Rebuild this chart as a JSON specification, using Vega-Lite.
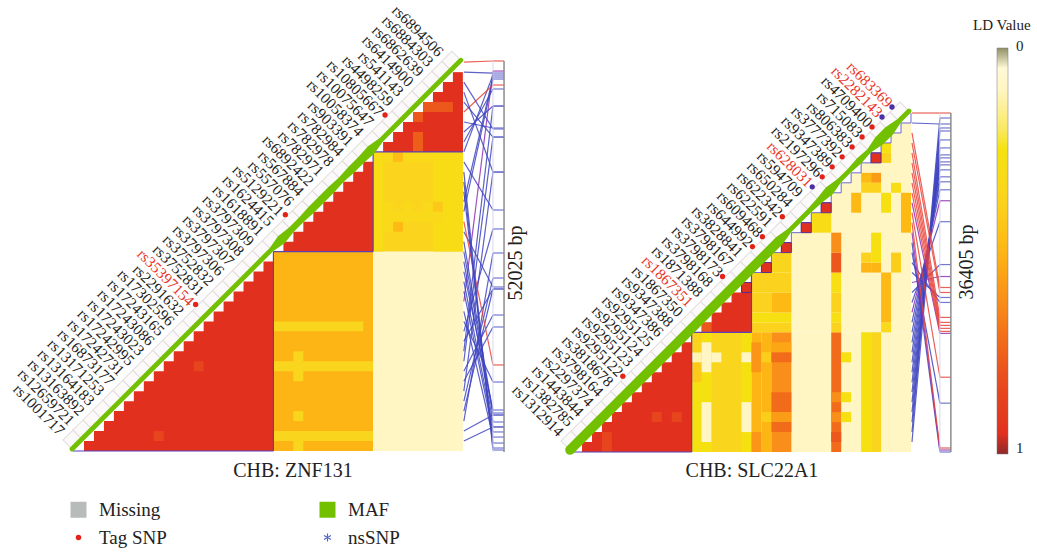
{"$schema":"https://vega.github.io/schema/vega-lite/v6.json","padding":0,"spacing":0,"bounds":"flush","background":"white","config":{"font":"Liberation Serif","axis":{"disable":true},"view":{"stroke":null}},"resolve":{"scale":{"color":"independent"},"legend":{"color":"independent"}},
"datasets":{
"zc":[{"c0":1,"c1":20,"r0":0,"r1":1,"ld":0.95},{"c0":2,"c1":20,"r0":0,"r1":2,"ld":0.95},{"c0":3,"c1":20,"r0":0,"r1":3,"ld":0.95},{"c0":4,"c1":20,"r0":0,"r1":4,"ld":0.95},{"c0":5,"c1":20,"r0":0,"r1":5,"ld":0.95},{"c0":6,"c1":20,"r0":0,"r1":6,"ld":0.95},{"c0":7,"c1":20,"r0":0,"r1":7,"ld":0.95},{"c0":8,"c1":20,"r0":0,"r1":8,"ld":0.95},{"c0":9,"c1":20,"r0":0,"r1":9,"ld":0.95},{"c0":10,"c1":20,"r0":0,"r1":10,"ld":0.95},{"c0":11,"c1":20,"r0":0,"r1":11,"ld":0.95},{"c0":12,"c1":20,"r0":0,"r1":12,"ld":0.95},{"c0":13,"c1":20,"r0":0,"r1":13,"ld":0.95},{"c0":14,"c1":20,"r0":0,"r1":14,"ld":0.95},{"c0":15,"c1":20,"r0":0,"r1":15,"ld":0.95},{"c0":16,"c1":20,"r0":0,"r1":16,"ld":0.95},{"c0":17,"c1":20,"r0":0,"r1":17,"ld":0.95},{"c0":18,"c1":20,"r0":0,"r1":18,"ld":0.95},{"c0":19,"c1":20,"r0":0,"r1":19,"ld":0.95},
{"c0":21,"c1":30,"r0":20,"r1":21,"ld":0.95},{"c0":22,"c1":30,"r0":20,"r1":22,"ld":0.95},{"c0":23,"c1":30,"r0":20,"r1":23,"ld":0.95},{"c0":24,"c1":30,"r0":20,"r1":24,"ld":0.95},{"c0":25,"c1":30,"r0":20,"r1":25,"ld":0.95},{"c0":26,"c1":30,"r0":20,"r1":26,"ld":0.95},{"c0":27,"c1":30,"r0":20,"r1":27,"ld":0.95},{"c0":28,"c1":30,"r0":20,"r1":28,"ld":0.95},{"c0":29,"c1":30,"r0":20,"r1":29,"ld":0.95},
{"c0":31,"c1":39,"r0":30,"r1":31,"ld":0.95},{"c0":32,"c1":39,"r0":30,"r1":32,"ld":0.95},{"c0":33,"c1":39,"r0":30,"r1":33,"ld":0.95},{"c0":34,"c1":39,"r0":30,"r1":34,"ld":0.95},{"c0":35,"c1":39,"r0":30,"r1":35,"ld":0.95},{"c0":36,"c1":39,"r0":30,"r1":36,"ld":0.95},{"c0":37,"c1":39,"r0":30,"r1":37,"ld":0.95},{"c0":38,"c1":39,"r0":30,"r1":38,"ld":0.95},
{"c0":20,"c1":30,"r0":0,"r1":20,"ld":0.5},{"c0":30,"c1":39,"r0":0,"r1":20,"ld":0.1},{"c0":30,"c1":39,"r0":20,"r1":30,"ld":0.37},{"c0":30,"c1":31,"r0":20,"r1":30,"ld":0.3},{"c0":36,"c1":39,"r0":20,"r1":30,"ld":0.3},
{"c0":20,"c1":29,"r0":12,"r1":13,"ld":0.36},{"c0":20,"c1":30,"r0":8,"r1":9,"ld":0.36},{"c0":20,"c1":30,"r0":1,"r1":2,"ld":0.36},{"c0":22,"c1":23,"r0":7,"r1":10,"ld":0.36},{"c0":22,"c1":23,"r0":3,"r1":4,"ld":0.36},{"c0":22,"c1":23,"r0":0,"r1":1,"ld":0.36},
{"c0":12,"c1":13,"r0":8,"r1":9,"ld":0.85},{"c0":8,"c1":9,"r0":1,"r1":2,"ld":0.85},{"c0":35,"c1":38,"r0":34,"r1":35,"ld":0.78},{"c0":34,"c1":35,"r0":33,"r1":34,"ld":0.78},{"c0":34,"c1":35,"r0":30,"r1":32,"ld":0.76},
{"c0":31,"c1":36,"r0":29,"r1":30,"ld":0.33},{"c0":32,"c1":33,"r0":29,"r1":30,"ld":0.47},{"c0":32,"c1":33,"r0":22,"r1":23,"ld":0.48},{"c0":31,"c1":32,"r0":22,"r1":23,"ld":0.33},{"c0":31,"c1":37,"r0":23,"r1":24,"ld":0.33},{"c0":31,"c1":32,"r0":24,"r1":25,"ld":0.33},{"c0":33,"c1":34,"r0":24,"r1":25,"ld":0.33},{"c0":35,"c1":36,"r0":24,"r1":25,"ld":0.33},{"c0":36,"c1":37,"r0":24,"r1":25,"ld":0.42}],
"zs":[{"i":1,"rs":"rs1001717","pos":2.41,"cls":"b"},{"i":2,"rs":"rs12659721","pos":3.61,"cls":"b"},{"i":3,"rs":"rs13163892","pos":19.86,"cls":"b"},{"i":4,"rs":"rs13164183","pos":16.25,"cls":"b"},{"i":5,"rs":"rs13171253","pos":17.35,"cls":"b"},{"i":6,"rs":"rs16873177","pos":27.98,"cls":"b"},{"i":7,"rs":"rs17242731","pos":12.44,"cls":"b"},{"i":8,"rs":"rs17242995","pos":13.64,"cls":"b"},{"i":9,"rs":"rs17243023","pos":31.49,"cls":"b"},{"i":10,"rs":"rs17243086","pos":34.6,"cls":"b"},{"i":11,"rs":"rs17243165","pos":16.25,"cls":"b"},{"i":12,"rs":"rs17302596","pos":22.27,"cls":"b"},{"i":13,"rs":"rs2291632","pos":6.92,"cls":"b"},{"i":14,"rs":"rs35397154","pos":1.4,"cls":"b","hl":1,"dot":"t"},{"i":15,"rs":"rs3752831","pos":38.11,"cls":"p"},{"i":16,"rs":"rs3752832","pos":1.91,"cls":"b"},{"i":17,"rs":"rs3797306","pos":2.41,"cls":"b"},{"i":18,"rs":"rs3797307","pos":4.11,"cls":"b"},{"i":19,"rs":"rs3797308","pos":2.91,"cls":"b"},{"i":20,"rs":"rs3797309","pos":3.61,"cls":"b"},{"i":21,"rs":"rs1618891","pos":3.81,"cls":"b"},{"i":22,"rs":"rs1624415","pos":16.45,"cls":"b"},{"i":23,"rs":"rs5129221","pos":8.63,"cls":"r","dot":"t"},{"i":24,"rs":"rs557076","pos":37.31,"cls":"b"},{"i":25,"rs":"rs567884","pos":37.51,"cls":"b"},{"i":26,"rs":"rs6892422","pos":0.8,"cls":"b"},{"i":27,"rs":"rs782971","pos":0.3,"cls":"b"},{"i":28,"rs":"rs782978","pos":0.1,"cls":"b"},{"i":29,"rs":"rs782984","pos":24.17,"cls":"b"},{"i":30,"rs":"rs903391","pos":37.71,"cls":"b"},{"i":31,"rs":"rs10058374","pos":36.31,"cls":"b"},{"i":32,"rs":"rs10075647","pos":34.6,"cls":"b"},{"i":33,"rs":"rs10805667","pos":32.4,"cls":"b","dot":"t"},{"i":34,"rs":"rs4498259","pos":36.71,"cls":"r"},{"i":35,"rs":"rs541143","pos":31.49,"cls":"b"},{"i":36,"rs":"rs6414900","pos":27.98,"cls":"b"},{"i":37,"rs":"rs6862639","pos":32.3,"cls":"b"},{"i":38,"rs":"rs6884303","pos":37.91,"cls":"b"},{"i":39,"rs":"rs6894506","pos":39.12,"cls":"r"}],
"zm":[{"i":0,"maf":0.12},{"i":1,"maf":0.12},{"i":5,"maf":0.12},{"i":10,"maf":0.12},{"i":15,"maf":0.12},{"i":20,"maf":0.12},{"i":21,"maf":0.24},{"i":22,"maf":0.16},{"i":23,"maf":0.16},{"i":24,"maf":0.2},{"i":25,"maf":0.2},{"i":26,"maf":0.2},{"i":27,"maf":0.16},{"i":28,"maf":0.2},{"i":29,"maf":0.2},{"i":30,"maf":0.24},{"i":31,"maf":0.12},{"i":35,"maf":0.12},{"i":39,"maf":0.12}],
"zo":[{"x0":-0.1,"x1":20,"y0":0,"y1":0},{"x0":20,"x1":20,"y0":0,"y1":20},{"x0":20,"x1":30,"y0":20,"y1":20},{"x0":30,"x1":30,"y0":20,"y1":30},{"x0":30,"x1":39,"y0":30,"y1":30}],
"sc":[{"c0":12,"c1":34,"r0":0,"r1":12,"ld":0.1},{"c0":18,"c1":34,"r0":12,"r1":17,"ld":0.1},{"c0":18,"c1":34,"r0":17,"r1":18,"ld":0.1},{"c0":19,"c1":34,"r0":17,"r1":19,"ld":0.1},{"c0":20,"c1":34,"r0":17,"r1":20,"ld":0.1},{"c0":21,"c1":34,"r0":17,"r1":21,"ld":0.1},{"c0":22,"c1":34,"r0":17,"r1":22,"ld":0.1},{"c0":23,"c1":34,"r0":17,"r1":23,"ld":0.1},{"c0":24,"c1":34,"r0":17,"r1":24,"ld":0.1},{"c0":25,"c1":34,"r0":17,"r1":25,"ld":0.1},{"c0":26,"c1":34,"r0":17,"r1":26,"ld":0.1},{"c0":27,"c1":34,"r0":17,"r1":27,"ld":0.1},{"c0":28,"c1":34,"r0":17,"r1":28,"ld":0.1},{"c0":29,"c1":34,"r0":17,"r1":29,"ld":0.1},{"c0":30,"c1":34,"r0":17,"r1":30,"ld":0.1},{"c0":31,"c1":34,"r0":17,"r1":31,"ld":0.1},{"c0":32,"c1":34,"r0":17,"r1":32,"ld":0.1},{"c0":33,"c1":34,"r0":17,"r1":33,"ld":0.1},
{"c0":1,"c1":12,"r0":0,"r1":1,"ld":0.95},{"c0":2,"c1":12,"r0":0,"r1":2,"ld":0.95},{"c0":3,"c1":12,"r0":0,"r1":3,"ld":0.95},{"c0":4,"c1":12,"r0":0,"r1":4,"ld":0.95},{"c0":5,"c1":12,"r0":0,"r1":5,"ld":0.95},{"c0":6,"c1":12,"r0":0,"r1":6,"ld":0.95},{"c0":7,"c1":12,"r0":0,"r1":7,"ld":0.95},{"c0":8,"c1":12,"r0":0,"r1":8,"ld":0.95},{"c0":9,"c1":12,"r0":0,"r1":9,"ld":0.95},{"c0":10,"c1":12,"r0":0,"r1":10,"ld":0.95},{"c0":11,"c1":12,"r0":0,"r1":11,"ld":0.95},
{"c0":13,"c1":18,"r0":12,"r1":13,"ld":0.95},{"c0":14,"c1":18,"r0":12,"r1":14,"ld":0.95},{"c0":15,"c1":18,"r0":12,"r1":15,"ld":0.95},{"c0":16,"c1":18,"r0":12,"r1":16,"ld":0.95},{"c0":17,"c1":18,"r0":12,"r1":17,"ld":0.95},
{"c0":19,"c1":20,"r0":18,"r1":19,"ld":0.95},{"c0":21,"c1":22,"r0":20,"r1":21,"ld":0.95},{"c0":23,"c1":24,"r0":22,"r1":23,"ld":0.95},{"c0":25,"c1":26,"r0":24,"r1":25,"ld":0.95},{"c0":30,"c1":31,"r0":29,"r1":30,"ld":0.95},
{"c0":8,"c1":9,"r0":3,"r1":4,"ld":0.85},{"c0":10,"c1":11,"r0":3,"r1":4,"ld":0.85},{"c0":3,"c1":4,"r0":0,"r1":2,"ld":0.85},{"c0":13,"c1":14,"r0":12,"r1":13,"ld":0.78},
{"c0":12,"c1":18,"r0":0,"r1":12,"ld":0.26},{"c0":12,"c1":13,"r0":7,"r1":9,"ld":0.42},{"c0":12,"c1":13,"r0":9,"r1":10,"ld":0.12},{"c0":12,"c1":13,"r0":10,"r1":12,"ld":0.38},{"c0":13,"c1":14,"r0":1,"r1":5,"ld":0.1},{"c0":13,"c1":14,"r0":8,"r1":11,"ld":0.1},{"c0":14,"c1":15,"r0":0,"r1":9,"ld":0.36},{"c0":14,"c1":15,"r0":9,"r1":10,"ld":0.1},{"c0":14,"c1":15,"r0":10,"r1":12,"ld":0.36},{"c0":15,"c1":17,"r0":0,"r1":12,"ld":0.36},{"c0":17,"c1":18,"r0":2,"r1":5,"ld":0.1},{"c0":17,"c1":18,"r0":9,"r1":10,"ld":0.1},
{"c0":18,"c1":19,"r0":0,"r1":12,"ld":0.5},{"c0":18,"c1":19,"r0":0,"r1":2,"ld":0.6},{"c0":18,"c1":19,"r0":8,"r1":11,"ld":0.6},{"c0":19,"c1":20,"r0":0,"r1":12,"ld":0.5},{"c0":19,"c1":20,"r0":3,"r1":4,"ld":0.4},{"c0":19,"c1":20,"r0":9,"r1":10,"ld":0.4},{"c0":20,"c1":22,"r0":0,"r1":12,"ld":0.62},{"c0":20,"c1":22,"r0":2,"r1":3,"ld":0.72},{"c0":20,"c1":22,"r0":3,"r1":4,"ld":0.58},{"c0":20,"c1":22,"r0":4,"r1":6,"ld":0.72},{"c0":20,"c1":22,"r0":9,"r1":10,"ld":0.72},{"c0":20,"c1":22,"r0":10,"r1":11,"ld":0.55},
{"c0":18,"c1":22,"r0":12,"r1":13,"ld":0.38},{"c0":18,"c1":22,"r0":13,"r1":14,"ld":0.27},{"c0":18,"c1":20,"r0":14,"r1":16,"ld":0.38},{"c0":20,"c1":22,"r0":14,"r1":16,"ld":0.48},{"c0":18,"c1":22,"r0":16,"r1":18,"ld":0.38},{"c0":20,"c1":22,"r0":18,"r1":20,"ld":0.36},
{"c0":26,"c1":27,"r0":0,"r1":12,"ld":0.72},{"c0":26,"c1":27,"r0":1,"r1":2,"ld":0.78},{"c0":26,"c1":27,"r0":3,"r1":4,"ld":0.62},{"c0":26,"c1":27,"r0":5,"r1":6,"ld":0.62},{"c0":26,"c1":27,"r0":12,"r1":13,"ld":0.38},{"c0":26,"c1":27,"r0":13,"r1":14,"ld":0.28},{"c0":26,"c1":27,"r0":14,"r1":16,"ld":0.38},{"c0":26,"c1":27,"r0":16,"r1":18,"ld":0.28},{"c0":26,"c1":27,"r0":18,"r1":20,"ld":0.78},{"c0":26,"c1":27,"r0":20,"r1":22,"ld":0.62},
{"c0":27,"c1":28,"r0":3,"r1":4,"ld":0.27},{"c0":27,"c1":28,"r0":5,"r1":6,"ld":0.27},{"c0":27,"c1":28,"r0":9,"r1":10,"ld":0.27},{"c0":29,"c1":30,"r0":0,"r1":12,"ld":0.27},{"c0":30,"c1":31,"r0":0,"r1":12,"ld":0.36},{"c0":31,"c1":32,"r0":12,"r1":13,"ld":0.33},{"c0":31,"c1":32,"r0":13,"r1":18,"ld":0.48},
{"c0":29,"c1":30,"r0":18,"r1":19,"ld":0.5},{"c0":29,"c1":30,"r0":19,"r1":20,"ld":0.38},{"c0":30,"c1":31,"r0":18,"r1":19,"ld":0.5},{"c0":30,"c1":31,"r0":19,"r1":22,"ld":0.27},{"c0":32,"c1":33,"r0":18,"r1":20,"ld":0.4},{"c0":24,"c1":26,"r0":22,"r1":24,"ld":0.3},{"c0":28,"c1":29,"r0":24,"r1":26,"ld":0.48},{"c0":31,"c1":32,"r0":24,"r1":26,"ld":0.27},{"c0":33,"c1":34,"r0":22,"r1":26,"ld":0.48},{"c0":29,"c1":30,"r0":27,"r1":28,"ld":0.48},{"c0":30,"c1":31,"r0":27,"r1":28,"ld":0.58},{"c0":29,"c1":31,"r0":26,"r1":27,"ld":0.38},{"c0":32,"c1":33,"r0":26,"r1":27,"ld":0.3},{"c0":31,"c1":32,"r0":29,"r1":30,"ld":0.38},{"c0":31,"c1":32,"r0":30,"r1":31,"ld":0.27}],
"ss":[{"i":1,"rs":"rs1312914","pos":32.2,"cls":"b"},{"i":2,"rs":"rs1382785","pos":33.5,"cls":"b"},{"i":3,"rs":"rs1443844","pos":32.5,"cls":"b"},{"i":4,"rs":"rs2297374","pos":31.3,"cls":"b"},{"i":5,"rs":"rs3798164","pos":30.5,"cls":"b"},{"i":6,"rs":"rs3818678","pos":29.8,"cls":"b"},{"i":7,"rs":"rs9295122","pos":29.5,"cls":"b","dot":"t"},{"i":8,"rs":"rs9295123","pos":29.1,"cls":"b"},{"i":9,"rs":"rs9295124","pos":28.8,"cls":"b"},{"i":10,"rs":"rs9295125","pos":28.3,"cls":"b"},{"i":11,"rs":"rs9347386","pos":27.6,"cls":"b"},{"i":12,"rs":"rs9347388","pos":27.1,"cls":"b"},{"i":13,"rs":"rs1867350","pos":26.3,"cls":"b"},{"i":14,"rs":"rs1867351","pos":25.2,"cls":"p","hl":1},{"i":15,"rs":"rs1871388","pos":23.1,"cls":"b"},{"i":16,"rs":"rs3798168","pos":18.8,"cls":"b"},{"i":17,"rs":"rs3798173","pos":17.6,"cls":"p","dot":"t"},{"i":18,"rs":"rs3798167","pos":15.5,"cls":"b"},{"i":19,"rs":"rs3828841","pos":15,"cls":"b"},{"i":20,"rs":"rs644992","pos":4.9,"cls":"b","dot":"t"},{"i":21,"rs":"rs609468","pos":0,"cls":"b","dot":"t"},{"i":22,"rs":"rs622591","pos":0.2,"cls":"p"},{"i":23,"rs":"rs622342","pos":0.4,"cls":"r","dot":"t"},{"i":24,"rs":"rs650284","pos":7.5,"cls":"r"},{"i":25,"rs":"rs594709","pos":11.9,"cls":"p"},{"i":26,"rs":"rs628031","pos":12.1,"cls":"r","hl":1,"dot":"n"},{"i":27,"rs":"rs2197296","pos":12.4,"cls":"r","dot":"t"},{"i":28,"rs":"rs9347389","pos":12.7,"cls":"r","dot":"t"},{"i":29,"rs":"rs3777392","pos":13,"cls":"r","dot":"t"},{"i":30,"rs":"rs806383","pos":13.5,"cls":"r","dot":"t"},{"i":31,"rs":"rs715083","pos":16,"cls":"r","dot":"t"},{"i":32,"rs":"rs4709400","pos":16.5,"cls":"r","dot":"t"},{"i":33,"rs":"rs2282143","pos":32.9,"cls":"b","hl":1,"dot":"n"},{"i":34,"rs":"rs683369","pos":34,"cls":"r","hl":1,"dot":"n"}],
"sm":[{"i":0,"maf":0.24},{"i":5,"maf":0.24},{"i":10,"maf":0.24},{"i":15,"maf":0.24},{"i":20,"maf":0.24},{"i":21,"maf":0.24},{"i":22,"maf":0.12},{"i":24,"maf":0.12},{"i":25,"maf":0.16},{"i":26,"maf":0.24},{"i":27,"maf":0.12},{"i":28,"maf":0.12},{"i":29,"maf":0.16},{"i":30,"maf":0.12},{"i":31,"maf":0.26},{"i":32,"maf":0.26},{"i":33,"maf":0.12},{"i":34,"maf":0.12}],
"so":[{"x0":-0.4,"x1":12,"y0":0,"y1":0},{"x0":12,"x1":12,"y0":0,"y1":12},{"x0":12,"x1":18,"y0":12,"y1":12},{"x0":18,"x1":18,"y0":12,"y1":18}],
"sq":[{"k":18},{"k":19},{"k":20},{"k":21},{"k":22},{"k":23},{"k":24},{"k":25},{"k":26},{"k":27},{"k":28},{"k":29},{"k":30},{"k":31},{"k":32},{"k":33},{"k":34}],
"sb":[{"c0":17,"c1":18,"r0":16,"r1":17},{"c0":19,"c1":20,"r0":18,"r1":19},{"c0":21,"c1":22,"r0":20,"r1":21},{"c0":23,"c1":24,"r0":22,"r1":23},{"c0":25,"c1":26,"r0":24,"r1":25},{"c0":30,"c1":31,"r0":29,"r1":30}]
},
"hconcat":[
{"width":525,"height":552,"layer":[
{"data":{"name":"zc"},"mark":{"type":"rect"},"encoding":{"x":{"field":"c0","type":"quantitative","scale":{"domain":[-7.425,45.233],"nice":false,"zero":false}},"x2":{"field":"c1"},"y":{"field":"r0","type":"quantitative","scale":{"domain":[-10.13,45.236],"nice":false,"zero":false}},"y2":{"field":"r1"},"color":{"field":"ld","type":"quantitative","legend":null,"scale":{"domain":[1,0.985,0.975,0.95,0.82,0.72,0.62,0.5,0.38,0.25,0.1,0.02,0.012,0],"range":["#8E2A2A","#8E2A2A","#E2301F","#E2301F","#E84A1E","#F26B1A","#F98F1A","#FDB515","#FBD31F","#F5E20F","#FFF6C4","#FFFBE0","#8F9068","#8F9068"]}}}},
{"data":{"name":"zo"},"mark":{"type":"rule","color":"#5B3FB5","strokeWidth":1.2},"encoding":{"x":{"field":"x0","type":"quantitative"},"x2":{"field":"x1"},"y":{"field":"y0","type":"quantitative"},"y2":{"field":"y1"}}},
{"data":{"name":"zs"},"mark":{"type":"point","shape":"square","angle":45,"size":199,"filled":true,"fill":"#FBF9F9","stroke":"#E2DDDD","strokeWidth":1,"opacity":1,"xOffset":-11,"yOffset":-1},"encoding":{"x":{"field":"i","type":"quantitative"},"y":{"field":"i","type":"quantitative"}}},
{"data":{"name":"zm"},"mark":{"type":"trail","color":"#72C000","xOffset":-2,"yOffset":-2},"encoding":{"x":{"field":"i","type":"quantitative"},"y":{"field":"i","type":"quantitative"},"size":{"field":"maf","type":"quantitative","legend":null,"scale":{"domain":[0,0.5],"range":[0,20]}}}},
{"data":{"name":"zs"},"mark":{"type":"rule","strokeWidth":1.2,"opacity":0.85},"encoding":{"x":{"datum":39.1,"type":"quantitative"},"x2":{"datum":42.02},"y":{"field":"i","type":"quantitative"},"y2":{"field":"pos"},"color":{"condition":[{"test":"datum.cls==='r'","value":"#E8443A"},{"test":"datum.cls==='p'","value":"#9030B0"}],"value":"#3F45BE"}}},
{"data":{"name":"zs"},"mark":{"type":"rule","strokeWidth":1.2,"opacity":0.85},"encoding":{"x":{"datum":42.02,"type":"quantitative"},"x2":{"datum":43.13},"y":{"field":"pos","type":"quantitative"},"color":{"condition":[{"test":"datum.cls==='r'","value":"#E8443A"},{"test":"datum.cls==='p'","value":"#9030B0"}],"value":"#5A60C8"}}},
{"data":{"values":[{"a":42.02,"b":43.13,"lo":-0.1,"hi":39.12}]},"mark":{"type":"rule","color":"#D8D8EC","strokeWidth":1},"encoding":{"x":{"field":"a","type":"quantitative"},"y":{"field":"lo","type":"quantitative"},"y2":{"field":"hi"}}},
{"data":{"values":[{"a":42.02,"b":43.13,"lo":-0.1,"hi":39.12}]},"mark":{"type":"rule","color":"#8C8C8C","strokeWidth":1.5},"encoding":{"x":{"field":"b","type":"quantitative"},"y":{"field":"lo","type":"quantitative"},"y2":{"field":"hi"}}},
{"data":{"name":"zs"},"mark":{"type":"text","align":"right","baseline":"middle","angle":45,"fontSize":15.5,"dx":-21.2,"dy":9.9},"encoding":{"x":{"field":"i","type":"quantitative"},"y":{"field":"i","type":"quantitative"},"text":{"field":"rs"},"color":{"condition":{"test":"datum.hl===1","value":"#E8352A"},"value":"#222222"}}},
{"data":{"name":"zs"},"transform":[{"filter":"datum.dot==='t'"}],"mark":{"type":"point","filled":true,"shape":"circle","size":28,"opacity":1,"color":"#E2231A","xOffset":-18,"yOffset":-7},"encoding":{"x":{"field":"i","type":"quantitative"},"y":{"field":"i","type":"quantitative"}}},
{"data":{"values":[{"t":"CHB: ZNF131","c":21.96,"r":-2}]},"mark":{"type":"text","fontSize":20,"color":"#222222","align":"center","baseline":"middle"},"encoding":{"x":{"field":"c","type":"quantitative"},"y":{"field":"r","type":"quantitative"},"text":{"field":"t"}}},
{"data":{"values":[{"t":"52025 bp","c":44.33,"r":18.86}]},"mark":{"type":"text","fontSize":20,"angle":270,"color":"#222222","align":"center","baseline":"middle"},"encoding":{"x":{"field":"c","type":"quantitative"},"y":{"field":"r","type":"quantitative"},"text":{"field":"t"}}},
{"data":{"values":[{"k":"Missing"},{"k":"Tag SNP"},{"k":"MAF"},{"k":"nsSNP"}]},"mark":{"type":"point","filled":true,"opacity":0},"encoding":{"fill":{"field":"k","type":"nominal","scale":{"domain":["Missing","Tag SNP","MAF","nsSNP"],"range":["#B7BBBA","#E2231A","#72C000","#4F62C4"]},"legend":{"orient":"none","legendX":69,"legendY":500,"columns":2,"title":null,"symbolSize":256,"symbolOpacity":1,"symbolStrokeWidth":0,"labelFontSize":19,"labelFont":"Liberation Serif","labelColor":"#222222","labelOffset":11,"columnPadding":151,"rowPadding":8,"gridAlign":"all","encode":{"symbols":{"update":{"shape":{"signal":"datum.label==='Tag SNP'?'circle':datum.label==='nsSNP'?'M-.14,-1L.14,-1L.14,1L-.14,1ZM.796,.621L.936,.379L-.796,-.621L-.936,-.379ZM.796,-.621L.936,-.379L-.796,.621L-.936,.379Z':'square'"},"size":{"signal":"datum.label==='Tag SNP'?30:datum.label==='nsSNP'?64:256"},"opacity":{"value":1},"strokeWidth":{"value":0}}}}}}}}
]},
{"width":512,"height":552,"layer":[
{"data":{"name":"sc"},"mark":{"type":"rect"},"encoding":{"x":{"field":"c0","type":"quantitative","scale":{"domain":[-4.717,46.64],"nice":false,"zero":false}},"x2":{"field":"c1"},"y":{"field":"r0","type":"quantitative","scale":{"domain":[-10.03,45.336],"nice":false,"zero":false}},"y2":{"field":"r1"},"color":{"field":"ld","type":"quantitative","scale":{"domain":[1,0.985,0.975,0.95,0.82,0.72,0.62,0.5,0.38,0.25,0.1,0.02,0.012,0],"range":["#8E2A2A","#8E2A2A","#E2301F","#E2301F","#E84A1E","#F26B1A","#F98F1A","#FDB515","#FBD31F","#F5E20F","#FFF6C4","#FFFBE0","#8F9068","#8F9068"]},"legend":{"orient":"none","legendX":448,"legendY":18,"title":"LD Value","titleFontSize":15,"titleFont":"Liberation Serif","titleFontWeight":"normal","titleColor":"#222222","titlePadding":15,"gradientLength":406,"gradientThickness":11,"gradientStrokeColor":"#777777","gradientStrokeWidth":0.5,"values":[0,1],"format":".0f","labelFontSize":15,"labelFont":"Liberation Serif","labelColor":"#222222","labelOffset":8,"encode":{"title":{"update":{"dx":{"value":-24}}},"labels":{"update":{"dy":{"signal":"datum.value===0?-9:2"}}}}}}}},
{"data":{"name":"so"},"mark":{"type":"rule","color":"#5B3FB5","strokeWidth":1.2},"encoding":{"x":{"field":"x0","type":"quantitative"},"x2":{"field":"x1"},"y":{"field":"y0","type":"quantitative"},"y2":{"field":"y1"}}},
{"data":{"name":"sq"},"mark":{"type":"line","interpolate":"step-after","color":"#6A6ACD","strokeWidth":1},"encoding":{"x":{"field":"k","type":"quantitative"},"y":{"field":"k","type":"quantitative"}}},
{"data":{"name":"sb"},"mark":{"type":"rect","fill":"transparent","stroke":"#5A2A8A","strokeWidth":1},"encoding":{"x":{"field":"c0","type":"quantitative"},"x2":{"field":"c1"},"y":{"field":"r0","type":"quantitative"},"y2":{"field":"r1"}}},
{"data":{"name":"ss"},"mark":{"type":"point","shape":"square","angle":45,"size":199,"filled":true,"fill":"#FBF9F9","stroke":"#E2DDDD","strokeWidth":1,"opacity":1,"xOffset":-11,"yOffset":-1},"encoding":{"x":{"field":"i","type":"quantitative"},"y":{"field":"i","type":"quantitative"}}},
{"data":{"name":"sm"},"mark":{"type":"trail","color":"#72C000","xOffset":-2,"yOffset":-2},"encoding":{"x":{"field":"i","type":"quantitative"},"y":{"field":"i","type":"quantitative"},"size":{"field":"maf","type":"quantitative","legend":null,"scale":{"domain":[0,0.5],"range":[0,20]}}}},
{"data":{"name":"ss"},"mark":{"type":"rule","strokeWidth":1.2,"opacity":0.85},"encoding":{"x":{"datum":34.1,"type":"quantitative"},"x2":{"datum":36.9},"y":{"field":"i","type":"quantitative"},"y2":{"field":"pos"},"color":{"condition":[{"test":"datum.cls==='r'","value":"#E8443A"},{"test":"datum.cls==='p'","value":"#9030B0"}],"value":"#3F45BE"}}},
{"data":{"name":"ss"},"mark":{"type":"rule","strokeWidth":1.2,"opacity":0.85},"encoding":{"x":{"datum":36.9,"type":"quantitative"},"x2":{"datum":38},"y":{"field":"pos","type":"quantitative"},"color":{"condition":[{"test":"datum.cls==='r'","value":"#E8443A"},{"test":"datum.cls==='p'","value":"#9030B0"}],"value":"#5A60C8"}}},
{"data":{"values":[{"a":36.9,"b":38,"lo":0,"hi":34}]},"mark":{"type":"rule","color":"#D8D8EC","strokeWidth":1},"encoding":{"x":{"field":"a","type":"quantitative"},"y":{"field":"lo","type":"quantitative"},"y2":{"field":"hi"}}},
{"data":{"values":[{"a":36.9,"b":38,"lo":0,"hi":34}]},"mark":{"type":"rule","color":"#8C8C8C","strokeWidth":1.5},"encoding":{"x":{"field":"b","type":"quantitative"},"y":{"field":"lo","type":"quantitative"},"y2":{"field":"hi"}}},
{"data":{"name":"ss"},"mark":{"type":"text","align":"right","baseline":"middle","angle":45,"fontSize":15.5,"dx":-20.5,"dy":9.2},"encoding":{"x":{"field":"i","type":"quantitative"},"y":{"field":"i","type":"quantitative"},"text":{"field":"rs"},"color":{"condition":{"test":"datum.hl===1","value":"#E8352A"},"value":"#222222"}}},
{"data":{"name":"ss"},"transform":[{"filter":"datum.dot"}],"mark":{"type":"point","filled":true,"shape":"circle","size":28,"opacity":1,"xOffset":-19,"yOffset":-6},"encoding":{"x":{"field":"i","type":"quantitative"},"y":{"field":"i","type":"quantitative"},"fill":{"condition":{"test":"datum.dot==='n'","value":"#4B2FA5"},"value":"#E2231A"}}},
{"data":{"values":[{"t":"CHB: SLC22A1","c":18.05,"r":-1.9}]},"mark":{"type":"text","fontSize":20,"color":"#222222","align":"center","baseline":"middle"},"encoding":{"x":{"field":"c","type":"quantitative"},"y":{"field":"r","type":"quantitative"},"text":{"field":"t"}}},
{"data":{"values":[{"t":"36405 bp","c":39.62,"r":19.06}]},"mark":{"type":"text","fontSize":20,"angle":270,"color":"#222222","align":"center","baseline":"middle"},"encoding":{"x":{"field":"c","type":"quantitative"},"y":{"field":"r","type":"quantitative"},"text":{"field":"t"}}}
]}
]}
